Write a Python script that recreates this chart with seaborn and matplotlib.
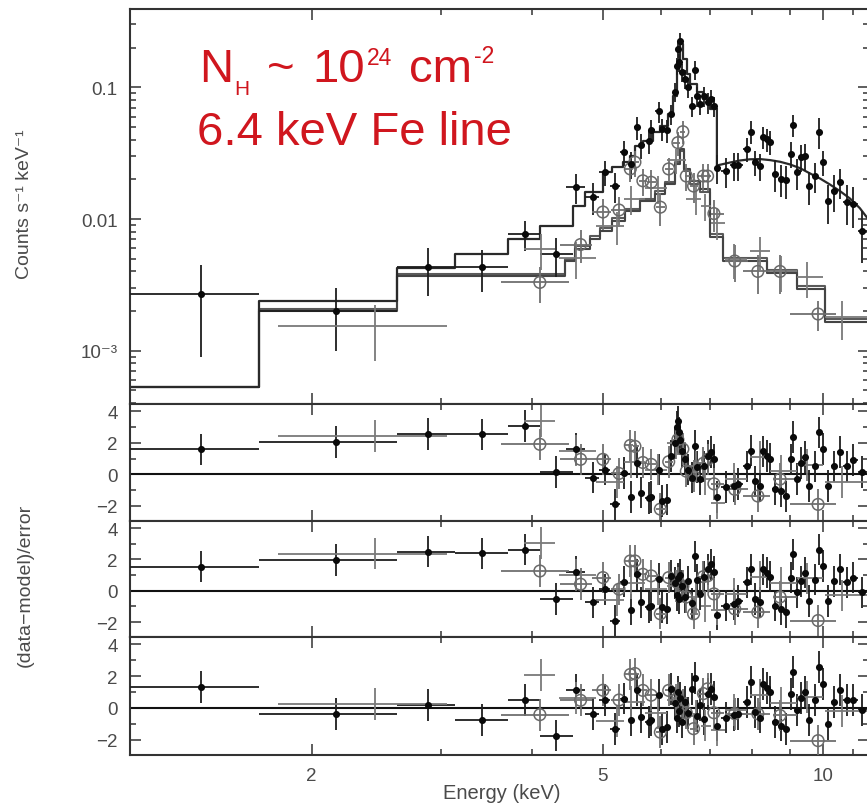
import numpy as np
import pandas as pd
import matplotlib
matplotlib.use("Agg")
import matplotlib.pyplot as plt
import seaborn as sns
from matplotlib.ticker import FixedLocator, NullFormatter, LogLocator, MultipleLocator, FixedFormatter

# ---------------- data ----------------
# filled-dot spectrum
filled_E = [1.41, 2.16, 2.88, 3.42, 3.91, 4.31, 4.60, 4.85, 5.04, 5.20, 5.35, 5.47, 5.57, 5.64, 5.78,
            5.82, 5.96, 6.03, 6.12, 6.20, 6.27, 6.31, 6.33, 6.36, 6.38, 6.42, 6.48, 6.54, 6.62, 6.67,
            6.72, 6.79, 6.87, 6.95, 7.03, 7.09, 7.15, 7.37, 7.55, 7.64, 7.88, 7.98, 8.06, 8.19, 8.27,
            8.37, 8.45, 8.59, 8.75, 8.89, 9.03, 9.09, 9.20, 9.32, 9.44, 9.56, 9.74, 9.87, 9.99, 10.16,
            10.35, 10.55, 10.77, 11.00, 11.30]
filled_C = [0.0027, 0.0020, 0.0043, 0.0043, 0.0077, 0.0054, 0.0175, 0.0147, 0.0227, 0.0178, 0.0323,
            0.0262, 0.050, 0.0365, 0.0392, 0.047, 0.066, 0.048, 0.047, 0.063, 0.092, 0.145, 0.195,
            0.155, 0.225, 0.13, 0.116, 0.10, 0.072, 0.135, 0.086, 0.075, 0.086, 0.077, 0.082, 0.072,
            0.0244, 0.0231, 0.0256, 0.0256, 0.034, 0.046, 0.0271, 0.0253, 0.042, 0.0405, 0.0385,
            0.022, 0.0201, 0.0198, 0.0312, 0.052, 0.0227, 0.0296, 0.030, 0.0178, 0.0212, 0.046,
            0.0271, 0.0137, 0.0164, 0.0191, 0.0135, 0.0130, 0.0081]
filled_err = [0.0018, 0.0010, 0.0017, 0.0015, 0.0020, 0.0018, 0.0045, 0.004, 0.005, 0.0045, 0.007,
              0.006, 0.010, 0.008, 0.008, 0.009, 0.012, 0.009, 0.009, 0.011, 0.015, 0.022, 0.028,
              0.024, 0.032, 0.02, 0.019, 0.017, 0.013, 0.022, 0.015, 0.013, 0.015, 0.014, 0.014,
              0.013, 0.006, 0.006, 0.006, 0.006, 0.007, 0.009, 0.006, 0.006, 0.008, 0.008, 0.008,
              0.006, 0.0055, 0.0055, 0.007, 0.010, 0.006, 0.007, 0.007, 0.005, 0.0055, 0.012, 0.006,
              0.0045, 0.005, 0.005, 0.0045, 0.0045, 0.0035]
filled_bins = {0: (1.10, 1.694), 1: (1.694, 2.616), 2: (2.616, 3.139), 3: (3.139, 3.709),
               4: (3.709, 4.102), 5: (4.102, 4.55)}
filled_r1 = [1.58, 2.04, 2.57, 2.53, 3.05, 0.15, 1.62, -0.2, 0.3, -1.9, 0.1, -1.45, 0.75, -1.15, -1.5,
             -1.45, 0.3, -1.7, -1.6, 1.15, 2.0, 3.0, 3.35, 2.65, 2.2, 1.45, 0.95, 0.3, -0.2, 1.8, 0.45,
             -0.3, 0.5, 1.15, 1.4, 0.95, -1.45, -0.8, -0.75, -0.6, 0.5, 1.5, -0.45, -0.75, 1.45, 1.15,
             1.0, -0.95, -1.05, -1.4, 0.95, 2.35, -0.3, 0.7, 1.1, -0.75, 0.5, 2.65, 1.6, -0.75, 0.5,
             1.4, 0.5, 0.9, 0.15]
filled_r2 = [1.54, 1.96, 2.49, 2.38, 2.63, -0.52, 1.2, -0.73, 0.1, -1.9, 0.57, -1.2, 1.05, -0.73,
             -1.05, -0.95, 0.74, -1.05, -1.15, 0.95, 0.5, -0.3, 0.8, -0.5, 1.0, 0.3, -0.4, 0.6, -0.8,
             2.2, 0.7, -0.2, 0.9, 1.37, 1.68, 1.2, -1.53, -0.95, -0.85, -0.65, 0.53, 1.37, -0.52,
             -0.73, 1.37, 1.16, 0.9, -0.95, -1.16, -1.37, 0.84, 2.32, -0.1, 0.6, 1.16, -0.65, 0.7,
             2.63, 1.58, -0.65, 0.6, 1.37, 0.53, 0.84, -0.1]
filled_r3 = [1.33, -0.36, 0.21, -0.74, 0.52, -1.73, 1.11, -0.36, 0.48, -1.31, 0.59, -0.78, 1.11,
             -0.57, -0.88, -0.78, 0.8, -1.31, -1.2, 1.2, 0.3, -0.6, 1.0, -0.2, 0.6, -0.9, 0.4, -0.3,
             1.2, 1.9, -0.5, 0.2, -0.7, 0.9, 1.2, 0.7, -1.1, -0.6, -0.47, -0.4, 0.4, 1.64, -0.25,
             -0.6, 1.5, 1.27, 1.0, -0.88, -1.1, -1.31, 0.9, 2.27, -0.15, 0.6, 1.0, -0.78, 0.48, 2.59,
             1.53, -0.99, 0.38, 1.11, 0.48, 0.48, -0.15]

# open-circle spectrum
open_E = [4.10, 4.66, 5.00, 5.26, 5.45, 5.53, 5.67, 5.82, 5.99, 6.15, 6.33, 6.43, 6.50, 6.65, 6.86,
          6.95, 7.09, 7.57, 8.14, 8.73, 9.84]
open_C = [0.0033, 0.0064, 0.0113, 0.0117, 0.024, 0.027, 0.0195, 0.019, 0.0123, 0.024, 0.038, 0.046,
          0.0212, 0.0178, 0.0212, 0.0212, 0.011, 0.0048, 0.0040, 0.0040, 0.0019]
open_err = [0.001, 0.0018, 0.003, 0.003, 0.005, 0.006, 0.0045, 0.0045, 0.0035, 0.005, 0.008, 0.009,
            0.005, 0.0045, 0.005, 0.005, 0.003, 0.0015, 0.0013, 0.0013, 0.0005]
open_bins = {0: (3.63, 4.50), 17: (7.35, 7.90), 18: (7.76, 8.46), 19: (8.55, 9.20), 20: (9.0, 10.4)}
open_r1 = [1.9, 0.95, 0.95, 0.06, 1.83, 1.77, 0.75, 0.63, -2.2, 0.8, 2.2, 1.6, 0.2, -0.1, 0.7, 0.95,
           -0.6, -0.95, -1.37, -0.3, -1.9]
open_r2 = [1.26, 0.42, 0.84, 0.1, 1.9, 1.9, 1.05, 0.95, -1.47, 0.84, 0.5, 0.3, -0.4, -1.47, 0.9,
           0.95, -0.2, -1.16, -1.37, -0.4, -1.9]
open_r3 = [-0.42, 0.48, 1.11, 0.5, 2.1, 2.16, 1.1, 0.8, -1.52, 1.1, 0.6, 0.2, -0.3, -1.3, 0.9, 1.2,
           -0.3, -0.36, -0.36, -0.47, -2.05]

# plus-sign spectrum
plus_E = [2.44, 4.12, 4.59, 5.22, 5.47, 5.95, 6.30, 6.70, 6.90, 7.15, 7.55, 8.20, 8.75, 9.50, 10.6]
plus_C = [0.00153, 0.0059, 0.0051, 0.0089, 0.0142, 0.0171, 0.028, 0.0142, 0.0126, 0.0094, 0.0050,
          0.0057, 0.0040, 0.0036, 0.0018]
plus_err = [0.0007, 0.0018, 0.0016, 0.0025, 0.0035, 0.004, 0.006, 0.0035, 0.003, 0.0025, 0.0015,
            0.0016, 0.0012, 0.0011, 0.0006]
plus_bins = {0: (1.80, 3.06), 1: (3.90, 4.30), 11: (7.94, 8.46), 12: (8.46, 9.20),
             13: (9.20, 10.0), 14: (10.05, 11.55)}
plus_r1 = [2.42, 3.37, 1.5, -0.5, 0.8, 0.3, 2.0, 0.5, -0.3, -1.8, -0.3, 1.1, 0.2, 0.6, -0.5]
plus_r2 = [2.36, 3.05, 1.0, -0.6, 0.5, 0.1, 0.3, -0.4, -1.0, -1.2, -0.2, 0.9, 0.5, 0.8, -0.3]
plus_r3 = [0.27, 2.06, 0.6, -0.8, 0.4, -0.3, 0.5, -0.5, -1.1, -1.4, -0.1, 0.8, 0.3, 0.7, -0.2]

# folded model step curves (bin edges, values)
model1_edges = [1.129, 1.694, 2.616, 3.139, 3.709, 4.102, 4.550, 4.726, 5.0, 5.144, 5.325, 5.443,
                5.529, 5.671, 5.852, 5.982, 6.135, 6.232, 6.310, 6.372, 6.432, 6.514, 6.575, 6.722,
                6.849, 7.002, 7.157]
model1_vals = [5.3e-4, 0.00238, 0.00425, 0.00542, 0.00705, 0.00885, 0.01256, 0.0160, 0.0227, 0.0248,
               0.0271, 0.0301, 0.0358, 0.0391, 0.0458, 0.0508, 0.0627, 0.0859, 0.145, 0.213, 0.164,
               0.126, 0.106, 0.092, 0.0815, 0.0684]
model1_cont_E = [7.157, 7.157, 7.45, 7.69, 7.94, 8.20, 8.46, 8.73, 9.0, 9.3, 9.59, 9.9, 10.21, 10.54,
                 10.88, 11.22, 11.55]
model1_cont_C = [0.0684, 0.0255, 0.0268, 0.0278, 0.0284, 0.0285, 0.028, 0.0272, 0.026, 0.0243,
                 0.0222, 0.0203, 0.0183, 0.0163, 0.0143, 0.0121, 0.0098]
model23_edges = [1.129, 1.694, 2.616, 4.437, 4.579, 4.801, 4.954, 5.144, 5.358, 5.617, 5.889, 6.077,
                 6.271, 6.372, 6.451, 6.575, 6.785, 7.002, 7.295, 8.375, 9.205, 10.05, 11.55]
model2_vals = [5.3e-4, 0.00199, 0.00367, 0.0048, 0.00592, 0.00705, 0.0081, 0.00966, 0.0115, 0.0137,
               0.0155, 0.0184, 0.0262, 0.034, 0.024, 0.0194, 0.0169, 0.0073, 0.0048, 0.00389,
               0.00294, 0.00165]
model3_vals = [5.3e-4, 0.00208, 0.0038, 0.0050, 0.0062, 0.0074, 0.0085, 0.0101, 0.0120, 0.0143,
               0.0162, 0.0192, 0.0272, 0.033, 0.0230, 0.0186, 0.0160, 0.0077, 0.0051, 0.0041,
               0.0031, 0.00175]

x_ticks = [2, 5, 10]
x_ticklabels = ["2", "5", "10"]
top_ticks = [1e-3, 1e-2, 1e-1]
top_ticklabels = ["10\u207b\u00b3", "0.01", "0.1"]
res_ticks = [-2, 0, 2, 4]

# ---------------- style ----------------
sns.set_style("ticks")
plt.rcParams["font.family"] = ["Liberation Sans", "DejaVu Sans"]

TXT = "#4a4a4a"
SPINE = "#333333"
XLIM = (1.129, 11.55)

fig = plt.figure(figsize=(8.67, 8.04), dpi=100)
W = 867.0
H = 804.0
left = 130 / W
width = (869 - 130) / W


def add_ax(top_px, bot_px):
    return fig.add_axes([left, 1 - bot_px / H, width, (bot_px - top_px) / H])


ax_top = add_ax(10, 405)
ax_r1 = add_ax(405, 522)
ax_r2 = add_ax(522, 638)
ax_r3 = add_ax(638, 756)
axes = [ax_top, ax_r1, ax_r2, ax_r3]


def xbounds(E, bins):
    E = np.asarray(E, float)
    lo = np.empty_like(E)
    hi = np.empty_like(E)
    for i in range(len(E)):
        lo[i] = np.sqrt(E[i - 1] * E[i]) if i > 0 else E[i] * 0.97
        hi[i] = np.sqrt(E[i + 1] * E[i]) if i < len(E) - 1 else E[i] * 1.03
        if i in bins:
            lo[i], hi[i] = bins[i]
    return E - lo, hi - E


series = {
    "filled": dict(E=filled_E, C=filled_C, err=filled_err, bins=filled_bins,
                   r=[filled_r1, filled_r2, filled_r3], ecolor="#1e1e1e"),
    "open": dict(E=open_E, C=open_C, err=open_err, bins=open_bins,
                 r=[open_r1, open_r2, open_r3], ecolor="#707070"),
    "plus": dict(E=plus_E, C=plus_C, err=plus_err, bins=plus_bins,
                 r=[plus_r1, plus_r2, plus_r3], ecolor="#7a7a7a"),
}


def draw_marks(ax, name, s, yvals, yerr):
    xl, xh = xbounds(s["E"], s["bins"])
    ax.errorbar(s["E"], yvals, yerr=yerr, xerr=[xl, xh], fmt="none", ecolor=s["ecolor"],
                elinewidth=1.3, capsize=0, zorder=3)
    df = pd.DataFrame({"E": s["E"], "y": yvals})
    if name == "filled":
        sns.scatterplot(data=df, x="E", y="y", ax=ax, color="#0a0a0a", s=26, linewidth=0,
                        zorder=5, legend=False)
    elif name == "open":
        sns.scatterplot(data=df, x="E", y="y", ax=ax, facecolor="none", edgecolor="#6a6a6a",
                        s=70, linewidth=1.1, zorder=4, legend=False)


def step_df(edges, vals):
    return pd.DataFrame({"E": list(edges), "C": list(vals) + [vals[-1]]})


sns.lineplot(data=step_df(model23_edges, model3_vals), x="E", y="C", ax=ax_top, color="#5a5a5a",
             lw=1.5, drawstyle="steps-post", estimator=None, sort=False, zorder=2)
sns.lineplot(data=step_df(model23_edges, model2_vals), x="E", y="C", ax=ax_top, color="#444444",
             lw=1.5, drawstyle="steps-post", estimator=None, sort=False, zorder=2)
sns.lineplot(data=step_df(model1_edges, model1_vals), x="E", y="C", ax=ax_top, color="#2a2a2a",
             lw=1.6, drawstyle="steps-post", estimator=None, sort=False, zorder=2)
sns.lineplot(data=pd.DataFrame({"E": model1_cont_E, "C": model1_cont_C}), x="E", y="C", ax=ax_top,
             color="#2a2a2a", lw=1.6, estimator=None, sort=False, zorder=2)

for name, s in series.items():
    draw_marks(ax_top, name, s, s["C"], s["err"])
    for k, ax in enumerate([ax_r1, ax_r2, ax_r3]):
        draw_marks(ax, name, s, s["r"][k], np.ones(len(s["E"])))

for ax in [ax_r1, ax_r2, ax_r3]:
    ax.axhline(0, color="#111111", lw=1.5, zorder=2)

for ax in axes:
    ax.set_xscale("log")
    ax.set_xlim(*XLIM)
    ax.set_xlabel("")
    ax.set_ylabel("")
    for sp in ax.spines.values():
        sp.set_visible(True)
        sp.set_color(SPINE)
        sp.set_linewidth(1.5)
    ax.xaxis.set_major_locator(FixedLocator(x_ticks))
    ax.xaxis.set_minor_locator(FixedLocator([3, 4, 6, 7, 8, 9, 11]))
    ax.xaxis.set_minor_formatter(NullFormatter())
    ax.tick_params(which="both", direction="in", top=True, right=True, color=SPINE,
                   labelcolor=TXT, labelsize=13.5, width=1.1)
    ax.tick_params(which="major", length=8, pad=9)
    ax.tick_params(which="minor", length=4)
    if ax is ax_r3:
        ax.xaxis.set_major_formatter(FixedFormatter(x_ticklabels))
    else:
        ax.xaxis.set_major_formatter(NullFormatter())

ax_top.set_yscale("log")
ax_top.set_ylim(3.94e-4, 0.393)
ax_top.yaxis.set_major_locator(FixedLocator(top_ticks))
ax_top.yaxis.set_major_formatter(FixedFormatter(top_ticklabels))
ax_top.yaxis.set_minor_locator(LogLocator(base=10, subs=np.arange(2, 10)))
ax_top.yaxis.set_minor_formatter(NullFormatter())

for ax in [ax_r1, ax_r2, ax_r3]:
    ax.set_ylim(-2.95, 4.45)
    ax.yaxis.set_major_locator(FixedLocator(res_ticks))
    ax.yaxis.set_major_formatter(FixedFormatter([f"{t}" if t >= 0 else f"\u2212{-t}" for t in res_ticks]))
    ax.yaxis.set_minor_locator(MultipleLocator(1))

# axis labels
fig.text(25 / W, 1 - 204 / H, "Counts s\u207b\u00b9 keV\u207b\u00b9", rotation=90, ha="center",
         va="center", fontsize=14, color=TXT)
fig.text(25 / W, 1 - 585 / H, "(data\u2212model)/error", rotation=90, ha="center", va="center",
         fontsize=14, color=TXT)
fig.text(502 / W, 1 - 794 / H, "Energy (keV)", ha="center", va="center", fontsize=14.5, color=TXT)

# red annotation, built piece by piece (sub/superscripts)
RED = "#d0161e"
renderer = fig.canvas.get_renderer()


def seq_text(x_px, base_px, pieces):
    x = x_px
    for txt, size, dy, gap in pieces:
        x += gap
        t = fig.text(x / W, 1 - (base_px + dy) / H, txt, fontsize=size, color=RED,
                     ha="left", va="baseline")
        bb = t.get_window_extent(renderer)
        x = bb.x1


seq_text(199, 82, [("N", 34, 0, 0), ("H", 15, 13, 1), ("~", 34, 0, 18), ("10", 34, 0, 17),
                   ("24", 16.5, -17, 2), ("cm", 34, 0, 17), ("-2", 16.5, -19, 2)])
seq_text(197, 145, [("6.4 keV Fe line", 34, 0, 0)])

fig.savefig("out.png", dpi=100)
